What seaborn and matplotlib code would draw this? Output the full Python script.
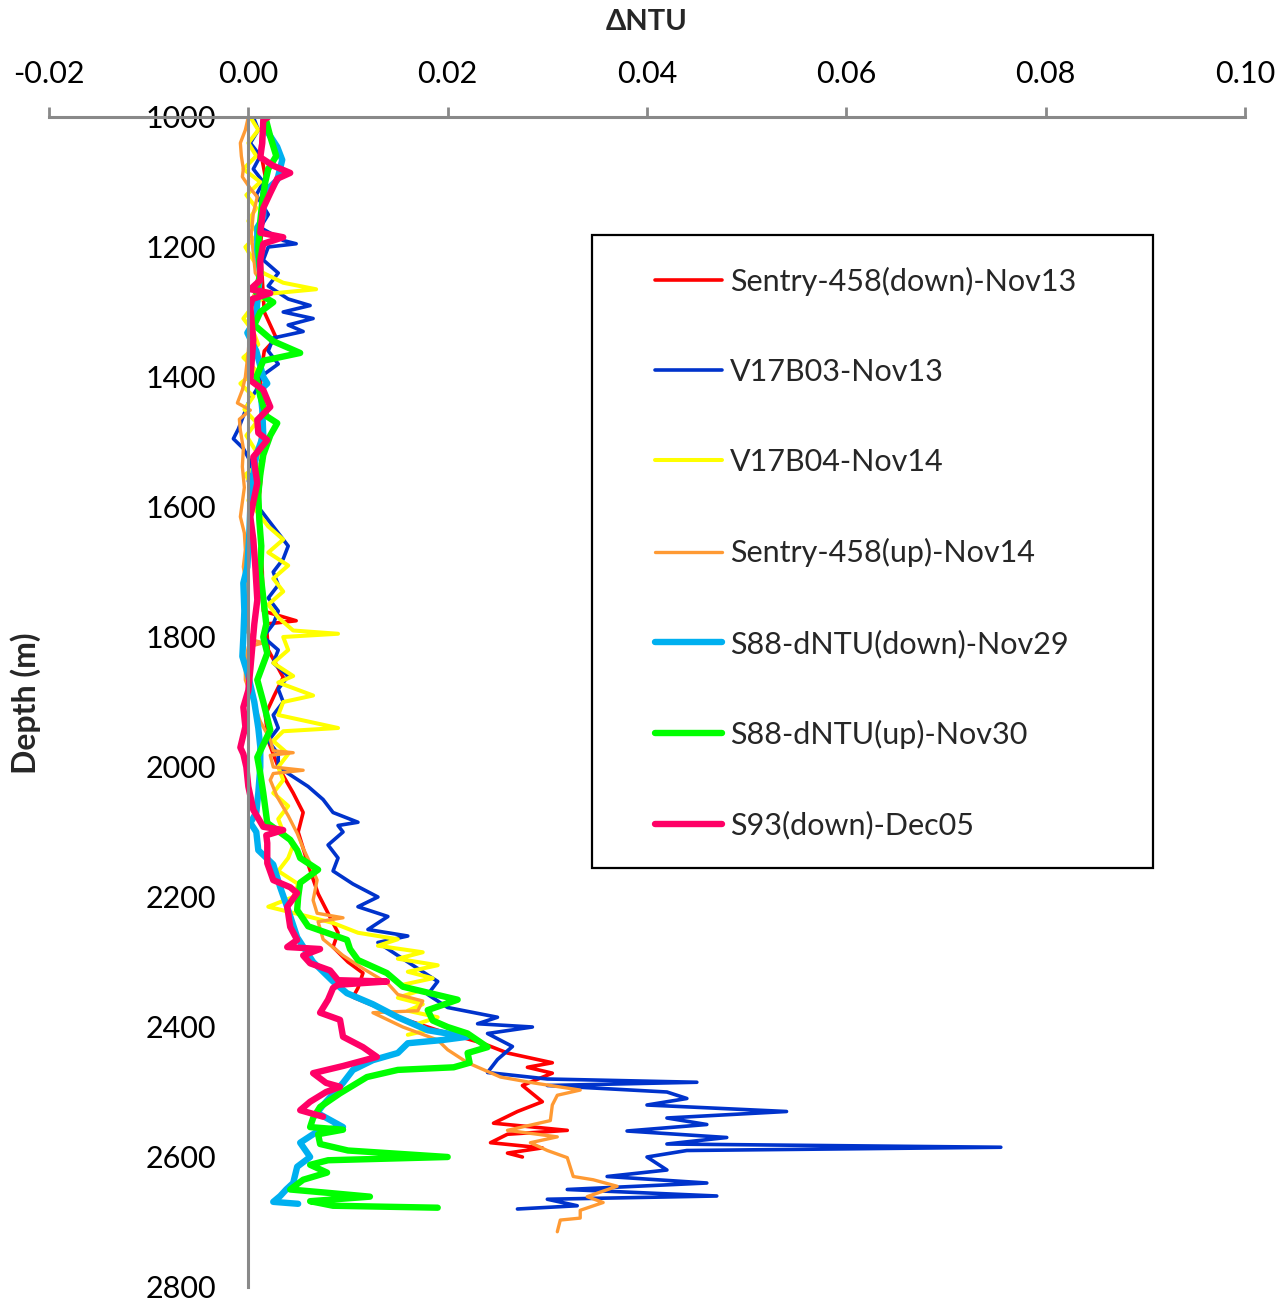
import matplotlib
matplotlib.use("Agg")
import matplotlib.pyplot as plt
from matplotlib.patches import Rectangle
from matplotlib.lines import Line2D
import seaborn as sns
import pandas as pd

# ---- turbidity anomaly profiles (depth in m, dNTU) ----
red_depth = [1000, 1050, 1100, 1150, 1200, 1250, 1300, 1340, 1360, 1400, 1450, 1500, 1550, 1600,
             1650, 1700, 1760, 1775, 1780, 1820, 1862, 1890, 1920, 1960, 2000, 2040, 2070, 2100,
             2150, 2195, 2225, 2255, 2277, 2300, 2317, 2340, 2354, 2370, 2385, 2405, 2425, 2440,
             2455, 2462, 2471, 2490, 2515, 2530, 2548, 2559, 2565, 2578, 2586, 2594, 2600]
red_dntu = [0.0015, 0.0012, 0.0018, 0.0015, 0.0012, 0.0014, 0.0016, 0.0028, 0.0016, 0.0012, 0.0014,
            0.0012, 0.0013, 0.0010, 0.0012, 0.0014, 0.0015, 0.0048, 0.0018, 0.0020, 0.0035, 0.0026,
            0.0017, 0.0020, 0.0030, 0.0045, 0.0055, 0.0050, 0.0060, 0.0070, 0.0080, 0.0090, 0.0085,
            0.0100, 0.0115, 0.0110, 0.0105, 0.0130, 0.0150, 0.0190, 0.0235, 0.0260, 0.0305, 0.0280,
            0.0305, 0.0275, 0.0295, 0.0270, 0.0246, 0.0320, 0.0260, 0.0243, 0.0295, 0.0260, 0.0275]

blue_depth = [1000, 1020, 1040, 1060, 1080, 1100, 1120, 1150, 1170, 1190, 1195, 1200, 1220, 1240,
              1260, 1280, 1290, 1300, 1310, 1320, 1330, 1340, 1360, 1380, 1400, 1420, 1440, 1460,
              1480, 1495, 1510, 1530, 1560, 1580, 1600, 1620, 1640, 1660, 1680, 1700, 1720, 1740,
              1760, 1780, 1800, 1820, 1840, 1860, 1880, 1900, 1920, 1940, 1960, 1980, 2000, 2015,
              2030, 2050, 2070, 2085, 2090, 2100, 2120, 2140, 2160, 2180, 2200, 2215, 2230, 2250,
              2260, 2270, 2290, 2310, 2330, 2350, 2370, 2385, 2395, 2400, 2410, 2430, 2450, 2470,
              2480, 2485, 2490, 2500, 2510, 2520, 2530, 2540, 2550, 2560, 2570, 2580, 2585, 2590,
              2600, 2620, 2630, 2640, 2650, 2660, 2665, 2675, 2680]
blue_dntu = [0.0005, 0.0010, 0.0002, 0.0012, 0.0005, 0.0015, 0.0008, 0.0020, 0.0012, 0.0035, 0.0048,
             0.0020, 0.0015, 0.0030, 0.0020, 0.0040, 0.0062, 0.0035, 0.0065, 0.0040, 0.0055, 0.0025,
             0.0020, 0.0030, 0.0012, 0.0008, 0.0000, -0.0005, -0.0010, -0.0015, -0.0005, 0.0002,
             0.0000, 0.0005, 0.0010, 0.0020, 0.0030, 0.0040, 0.0035, 0.0025, 0.0030, 0.0020, 0.0030,
             0.0025, 0.0015, 0.0030, 0.0025, 0.0040, 0.0030, 0.0035, 0.0025, 0.0030, 0.0020, 0.0030,
             0.0030, 0.0045, 0.0060, 0.0075, 0.0085, 0.0110, 0.0090, 0.0095, 0.0080, 0.0090, 0.0085,
             0.0105, 0.0130, 0.0110, 0.0140, 0.0120, 0.0160, 0.0130, 0.0150, 0.0170, 0.0190, 0.0180,
             0.0200, 0.0250, 0.0230, 0.0285, 0.0240, 0.0265, 0.0250, 0.0240, 0.0300, 0.0450, 0.0300,
             0.0420, 0.0440, 0.0400, 0.0540, 0.0420, 0.0460, 0.0380, 0.0480, 0.0420, 0.0755, 0.0440,
             0.0400, 0.0420, 0.0360, 0.0460, 0.0320, 0.0470, 0.0300, 0.0330, 0.0270]

yellow_depth = [1000, 1020, 1040, 1060, 1080, 1100, 1120, 1140, 1160, 1180, 1200, 1220, 1240, 1255,
                1265, 1272, 1290, 1310, 1330, 1350, 1370, 1390, 1410, 1430, 1450, 1470, 1490, 1510,
                1530, 1550, 1570, 1590, 1610, 1630, 1650, 1670, 1690, 1710, 1730, 1750, 1770, 1790,
                1795, 1800, 1820, 1840, 1860, 1870, 1890, 1900, 1920, 1940, 1945, 1960, 1980, 2000,
                2020, 2040, 2060, 2080, 2100, 2120, 2140, 2160, 2180, 2200, 2215, 2230, 2240, 2255,
                2265, 2275, 2285, 2295, 2305, 2315, 2325, 2335, 2345, 2355, 2365, 2375, 2385, 2395,
                2405, 2412]
yellow_dntu = [0.0002, 0.0010, 0.0000, 0.0008, -0.0005, 0.0012, -0.0002, 0.0008, 0.0000, 0.0010,
               -0.0003, 0.0005, 0.0015, 0.0035, 0.0068, 0.0020, 0.0005, -0.0005, 0.0005, 0.0010,
               -0.0005, 0.0008, -0.0008, 0.0005, -0.0004, 0.0008, -0.0002, 0.0006, 0.0015, -0.0003,
               0.0005, 0.0000, 0.0010, 0.0020, 0.0035, 0.0020, 0.0040, 0.0025, 0.0035, 0.0020,
               0.0030, 0.0045, 0.0090, 0.0035, 0.0040, 0.0025, 0.0045, 0.0030, 0.0065, 0.0035,
               0.0030, 0.0090, 0.0035, 0.0025, 0.0040, 0.0030, 0.0035, 0.0025, 0.0040, 0.0030,
               0.0035, 0.0045, 0.0040, 0.0030, 0.0050, 0.0045, 0.0020, 0.0060, 0.0085, 0.0110,
               0.0150, 0.0130, 0.0175, 0.0150, 0.0190, 0.0160, 0.0185, 0.0155, 0.0170, 0.0150,
               0.0175, 0.0160, 0.0190, 0.0170, 0.0180, 0.0160]

orange_depth = [1000, 1020, 1040, 1060, 1080, 1092, 1110, 1123, 1148, 1180, 1210, 1240, 1251, 1280,
                1320, 1360, 1400, 1420, 1440, 1451, 1465, 1482, 1510, 1538, 1570, 1615, 1640, 1666,
                1692, 1720, 1760, 1790, 1805, 1809, 1815, 1840, 1866, 1900, 1930, 1958, 1975, 1978,
                1982, 2000, 2005, 2010, 2020, 2046, 2075, 2102, 2125, 2148, 2174, 2205, 2225, 2232,
                2238, 2265, 2290, 2310, 2333, 2350, 2360, 2375, 2378, 2400, 2420, 2435, 2455, 2477,
                2486, 2497, 2505, 2520, 2544, 2559, 2569, 2578, 2590, 2601, 2630, 2635, 2645, 2661,
                2670, 2682, 2694, 2697, 2715]
orange_dntu = [0.0000, -0.0003, -0.0008, -0.0007, -0.0005, -0.0006, 0.0002, 0.0009, 0.0005, 0.0003,
               0.0005, 0.0007, 0.0012, 0.0004, 0.0002, 0.0000, -0.0003, -0.0006, -0.0011, 0.0002,
               -0.0009, -0.0008, -0.0005, -0.0006, -0.0004, -0.0008, -0.0004, -0.0003, -0.0005,
               -0.0002, 0.0000, -0.0002, 0.0005, 0.0015, 0.0000, -0.0003, -0.0003, 0.0005, 0.0012,
               0.0022, 0.0025, 0.0045, 0.0022, 0.0025, 0.0055, 0.0025, 0.0022, 0.0029, 0.0040,
               0.0049, 0.0055, 0.0062, 0.0069, 0.0065, 0.0069, 0.0095, 0.0070, 0.0075, 0.0095,
               0.0115, 0.0140, 0.0150, 0.0175, 0.0170, 0.0125, 0.0155, 0.0190, 0.0200, 0.0220,
               0.0253, 0.0286, 0.0333, 0.0310, 0.0305, 0.0303, 0.0260, 0.0310, 0.0283, 0.0300,
               0.0320, 0.0326, 0.0346, 0.0370, 0.0340, 0.0356, 0.0333, 0.0333, 0.0313, 0.0310]

ltblue_depth = [1000, 1020, 1046, 1066, 1097, 1117, 1154, 1170, 1205, 1240, 1282, 1310, 1332, 1360,
                1400, 1410, 1420, 1450, 1490, 1520, 1560, 1600, 1640, 1692, 1717, 1760, 1800, 1830,
                1860, 1900, 1940, 1969, 2000, 2040, 2070, 2086, 2100, 2128, 2150, 2185, 2220, 2262,
                2300, 2330, 2348, 2365, 2385, 2405, 2415, 2420, 2425, 2440, 2451, 2466, 2486, 2503,
                2520, 2532, 2554, 2560, 2578, 2600, 2615, 2640, 2650, 2660, 2669, 2672]
ltblue_dntu = [0.0015, 0.0018, 0.0029, 0.0034, 0.0029, 0.0015, 0.0015, 0.0009, 0.0009, 0.0012,
               0.0009, 0.0008, -0.0001, 0.0008, 0.0015, 0.0019, 0.0012, 0.0014, 0.0015, 0.0008,
               0.0004, 0.0002, 0.0001, -0.0001, -0.0005, -0.0004, -0.0005, -0.0006, 0.0000, 0.0006,
               0.0010, 0.0012, 0.0012, 0.0010, 0.0008, 0.0002, 0.0008, 0.0010, 0.0025, 0.0032,
               0.0040, 0.0049, 0.0065, 0.0085, 0.0099, 0.0125, 0.0150, 0.0180, 0.0220, 0.0195,
               0.0160, 0.0150, 0.0125, 0.0105, 0.0095, 0.0085, 0.0075, 0.0069, 0.0095, 0.0070,
               0.0052, 0.0062, 0.0049, 0.0045, 0.0038, 0.0032, 0.0025, 0.0050]

green_depth = [1000, 1030, 1060, 1080, 1100, 1130, 1160, 1200, 1240, 1270, 1285, 1300, 1320, 1345,
               1363, 1375, 1400, 1430, 1460, 1471, 1490, 1520, 1550, 1580, 1620, 1660, 1700, 1740,
               1780, 1800, 1825, 1866, 1900, 1943, 1985, 2010, 2040, 2086, 2112, 2128, 2140, 2158,
               2178, 2200, 2220, 2245, 2266, 2280, 2297, 2317, 2338, 2358, 2374, 2390, 2400, 2410,
               2431, 2440, 2455, 2462, 2466, 2477, 2490, 2502, 2523, 2540, 2554, 2558, 2565, 2580,
               2590, 2600, 2605, 2612, 2624, 2635, 2650, 2655, 2661, 2668, 2675, 2678]
green_dntu = [0.0017, 0.0022, 0.0028, 0.0020, 0.0017, 0.0014, 0.0012, 0.0010, 0.0012, 0.0008,
              0.0025, 0.0012, 0.0006, 0.0025, 0.0052, 0.0015, 0.0008, 0.0012, 0.0018, 0.0029,
              0.0022, 0.0015, 0.0012, 0.0010, 0.0011, 0.0013, 0.0012, 0.0015, 0.0018, 0.0015,
              0.0019, 0.0009, 0.0015, 0.0022, 0.0009, 0.0012, 0.0015, 0.0019, 0.0042, 0.0049,
              0.0052, 0.0070, 0.0052, 0.0050, 0.0049, 0.0060, 0.0099, 0.0102, 0.0110, 0.0139,
              0.0155, 0.0210, 0.0180, 0.0185, 0.0200, 0.0220, 0.0240, 0.0220, 0.0222, 0.0206,
              0.0150, 0.0119, 0.0105, 0.0092, 0.0072, 0.0065, 0.0062, 0.0095, 0.0070, 0.0072,
              0.0100, 0.0200, 0.0080, 0.0062, 0.0079, 0.0055, 0.0042, 0.0079, 0.0122, 0.0062,
              0.0085, 0.0190]

pink_depth = [1000, 1005, 1040, 1062, 1075, 1086, 1095, 1117, 1140, 1178, 1185, 1195, 1220, 1251,
              1265, 1271, 1280, 1292, 1343, 1405, 1420, 1446, 1466, 1486, 1497, 1523, 1563, 1615,
              1650, 1692, 1743, 1780, 1815, 1850, 1882, 1908, 1938, 1970, 1980, 2000, 2030, 2066,
              2092, 2097, 2105, 2117, 2148, 2174, 2185, 2194, 2215, 2246, 2266, 2277, 2280, 2290,
              2302, 2313, 2328, 2330, 2335, 2340, 2358, 2378, 2389, 2415, 2431, 2446, 2460, 2471,
              2486, 2492, 2500, 2515, 2528, 2538]
pink_dntu = [0.0020, 0.0015, 0.0014, 0.0012, 0.0025, 0.0042, 0.0029, 0.0022, 0.0015, 0.0012,
             0.0035, 0.0015, 0.0012, 0.0012, 0.0002, 0.0022, 0.0004, 0.0002, 0.0005, 0.0002,
             0.0015, 0.0022, 0.0009, 0.0010, 0.0019, 0.0005, 0.0009, 0.0002, 0.0005, 0.0007,
             0.0009, 0.0006, 0.0004, 0.0002, 0.0000, -0.0005, -0.0003, -0.0008, -0.0005, -0.0002,
             0.0000, 0.0005, 0.0015, 0.0035, 0.0018, 0.0019, 0.0019, 0.0025, 0.0042, 0.0049,
             0.0039, 0.0042, 0.0049, 0.0039, 0.0072, 0.0055, 0.0062, 0.0082, 0.0090, 0.0139,
             0.0090, 0.0085, 0.0080, 0.0072, 0.0092, 0.0095, 0.0115, 0.0129, 0.0095, 0.0065,
             0.0078, 0.0092, 0.0078, 0.0062, 0.0052, 0.0075]

series_names = ["Sentry-458(down)-Nov13", "V17B03-Nov13", "V17B04-Nov14", "Sentry-458(up)-Nov14",
                "S88-dNTU(down)-Nov29", "S88-dNTU(up)-Nov30", "S93(down)-Dec05"]
series_data = [(red_depth, red_dntu), (blue_depth, blue_dntu), (yellow_depth, yellow_dntu),
               (orange_depth, orange_dntu), (ltblue_depth, ltblue_dntu),
               (green_depth, green_dntu), (pink_depth, pink_dntu)]
series_colors = ["#FF0000", "#0033CC", "#FFFF00", "#FF9A33", "#00B0F0", "#00FF00", "#FF0066"]
series_widths = [2.6, 2.6, 2.9, 2.4, 4.6, 4.6, 4.6]

x_ticks = [-0.02, 0.00, 0.02, 0.04, 0.06, 0.08, 0.10]
y_ticks = [1000, 1200, 1400, 1600, 1800, 2000, 2200, 2400, 2600, 2800]

frames = []
for name, (d, v) in zip(series_names, series_data):
    frames.append(pd.DataFrame({"depth": d, "dntu": v, "series": name}))
df = pd.concat(frames, ignore_index=True)

sns.set_style("white")
plt.rcParams["font.family"] = ["Lato", "DejaVu Sans"]

W, H = 1285, 1304
fig = plt.figure(figsize=(W / 100, H / 100), dpi=100)
ax = fig.add_axes([49 / W, 1 - 1287 / H, 1196 / W, 1170 / H])

for name, color, lw in zip(series_names, series_colors, series_widths):
    sub = df[df["series"] == name]
    sns.lineplot(data=sub, x="dntu", y="depth", sort=False, estimator=None, orient="y",
                 color=color, linewidth=lw, ax=ax, legend=False)

ax.set_xlim(-0.02, 0.10)
ax.set_ylim(2800, 1000)
ax.set_xticks(x_ticks)
ax.set_xticklabels([f"{t:.2f}" for t in x_ticks])
ax.set_yticks(y_ticks)
ax.set_yticklabels([str(t) for t in y_ticks])
ax.set_xlabel("")
ax.set_ylabel("")

axis_gray = "#898989"
ax.spines["left"].set_position(("data", 0))
for side in ("left", "top"):
    ax.spines[side].set_color(axis_gray)
    ax.spines[side].set_linewidth(2.2)
ax.spines["right"].set_visible(False)
ax.spines["bottom"].set_visible(False)
ax.xaxis.set_ticks_position("top")
ax.xaxis.set_label_position("top")
ax.tick_params(axis="x", direction="out", length=7, width=2, color=axis_gray,
               pad=14, labelsize=22, labelcolor="black")
ax.tick_params(axis="y", direction="out", length=7, width=2, color=axis_gray,
               pad=16, labelsize=22, labelcolor="black")
ax.grid(False)

fig.text(647 / W, 1 - 22 / H, "ΔNTU", ha="center", va="center",
         fontsize=21, fontweight="bold")
fig.text(26 / W, 1 - 703 / H, "Depth (m)", ha="center", va="center",
         rotation=90, fontsize=23, fontweight="bold")

# legend panel
fig.patches.append(Rectangle((592 / W, 1 - 868 / H), 561 / W, 633 / H,
                             transform=fig.transFigure, facecolor="white",
                             edgecolor="black", linewidth=1.6, zorder=5))
handles = [Line2D([0], [0], color=c, linewidth=lw) for c, lw in zip(series_colors, series_widths)]
leg = fig.legend(handles, series_names, loc="upper left",
                 bbox_to_anchor=(655 / W, 1 - 267 / H), bbox_transform=fig.transFigure,
                 frameon=False, fontsize=22, handlelength=2.2, handletextpad=0.25,
                 labelspacing=2.03, borderpad=0, borderaxespad=0)
leg.set_zorder(6)

fig.savefig("out.png", dpi=100, facecolor="white")
